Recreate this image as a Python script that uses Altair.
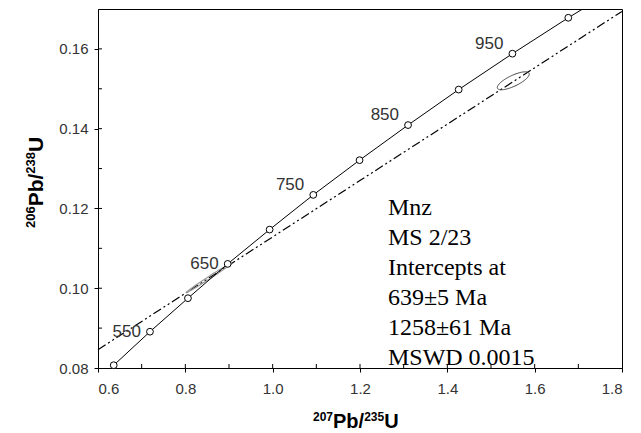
import altair as alt
import pandas as pd
import numpy as np

# Concordia points (age in Ma, 207Pb/235U, 206Pb/238U)
ages = [500, 550, 600, 650, 700, 750, 800, 850, 900, 950, 1000]
conc_x = [0.636, 0.719, 0.806, 0.897, 0.993, 1.093, 1.199, 1.310, 1.426, 1.549, 1.677]
conc_y = [0.0807, 0.0891, 0.0975, 0.1061, 0.1147, 0.1234, 0.1321, 0.1409, 0.1498, 0.1588, 0.1678]
# continuation of the curve beyond the top edge
ext_age = [1050]
ext_x = [1.813]
ext_y = [0.1769]

label_ages_low = [550, 650]
label_ages_high = [750, 850, 950]

# Discordia end points
disc_x = [0.60, 1.80]
disc_y = [0.0846, 0.1694]

# Error ellipse of the analysis (centre, sigma x, sigma y, correlation)
ell_cx, ell_cy = 1.551, 0.1520
ell_sx, ell_sy, ell_rho = 0.0366, 0.00225, 0.75

# Lower-intercept uncertainty band (thin grey ellipse)
li_cx, li_cy = 0.854, 0.1026
li_sx, li_sy, li_rho = 0.052, 0.0037, 0.995

# Inset text
info_lines = ["Mnz", "MS 2/23", "Intercepts at", "639±5 Ma", "1258±61 Ma", "MSWD 0.0015"]

# Axis titles split into (text, is_superscript)
x_title_parts = [("207", True), ("Pb/", False), ("235", True), ("U", False)]
y_title_parts = [("206", True), ("Pb/", False), ("238", True), ("U", False)]

x_ticks = [0.6, 0.8, 1.0, 1.2, 1.4, 1.6, 1.8]
x_minor = [0.7, 0.8, 0.9, 1.0, 1.1, 1.2, 1.3, 1.4, 1.5, 1.6, 1.7]
y_ticks = [0.08, 0.10, 0.12, 0.14, 0.16]
y_minor = [0.09, 0.10, 0.11, 0.12, 0.13, 0.14, 0.15, 0.16]

W, H = 524, 359
xs = alt.Scale(domain=[0.6, 1.8], nice=False, zero=False)
ys = alt.Scale(domain=[0.08, 0.17], nice=False, zero=False)

conc = pd.DataFrame({"age": ages + ext_age, "x": conc_x + ext_x, "y": conc_y + ext_y})
pts = pd.DataFrame({"age": ages, "x": conc_x, "y": conc_y})
lab_low = pts[pts.age.isin(label_ages_low)].assign(lab=lambda d: d.age.astype(str))
lab_high = pts[pts.age.isin(label_ages_high)].assign(lab=lambda d: d.age.astype(str))
disc = pd.DataFrame({"x": disc_x, "y": disc_y})


def ellipse_df(cx, cy, sx, sy, rho):
    t = np.linspace(0, 2 * np.pi, 91)
    phi = np.arccos(rho)
    return pd.DataFrame({"i": np.arange(len(t)),
                         "x": cx + sx * np.cos(t),
                         "y": cy + sy * np.cos(t - phi)})


ell = ellipse_df(ell_cx, ell_cy, ell_sx, ell_sy, ell_rho)
li = ellipse_df(li_cx, li_cy, li_sx, li_sy, li_rho)

X = alt.X("x:Q", scale=xs, title=None,
          axis=alt.Axis(values=x_ticks, format=".1f", tickSize=4, labelPadding=9, grid=False))
Y = alt.Y("y:Q", scale=ys, title=None,
          axis=alt.Axis(values=y_ticks, format=".2f", tickSize=4, labelPadding=6, grid=False))

disc_line = alt.Chart(disc).mark_line(
    color="black", strokeWidth=1.2, strokeDash=[9, 3, 2, 3, 2, 3]
).encode(x=X, y=Y)

li_band = alt.Chart(li).mark_line(color="#999", strokeWidth=1.2).encode(
    x="x:Q", y="y:Q", order="i:Q")

ellipse = alt.Chart(ell).mark_line(color="#444", strokeWidth=1).encode(
    x="x:Q", y="y:Q", order="i:Q")

conc_line = alt.Chart(conc).mark_line(color="black", strokeWidth=1, clip=True).encode(
    x="x:Q", y="y:Q", order="age:Q")

circles = alt.Chart(pts).mark_point(
    shape="circle", size=46, filled=True, fill="white", stroke="black", strokeWidth=1, opacity=1
).encode(x="x:Q", y="y:Q")

t_low = alt.Chart(lab_low).mark_text(
    align="right", baseline="middle", dx=-9, fontSize=17, font="Liberation Sans", color="#333"
).encode(x="x:Q", y="y:Q", text="lab:N")

t_high = alt.Chart(lab_high).mark_text(
    align="right", baseline="middle", dx=-9, dy=-10, fontSize=17, font="Liberation Sans", color="#333"
).encode(x="x:Q", y="y:Q", text="lab:N")

info = alt.Chart(pd.DataFrame({"x": [1.264], "y": [0.1232], "t": ["\n".join(info_lines)]})).mark_text(
    align="left", baseline="top", fontSize=24, font="Liberation Serif", color="black",
    lineBreak="\n", lineHeight=30
).encode(x="x:Q", y="y:Q", text="t:N")

xin = alt.Chart(pd.DataFrame({"x": x_minor})).mark_rule(color="black", strokeWidth=1).encode(
    x="x:Q", y=alt.value(H), y2=alt.value(H - 4))
yin = alt.Chart(pd.DataFrame({"y": y_minor})).mark_rule(color="black", strokeWidth=1).encode(
    y="y:Q", x=alt.value(0), x2=alt.value(4))

# --- composite axis titles with real superscripts (Arial-metric widths) ---
ADV = {"0": 0.556, "2": 0.556, "3": 0.556, "5": 0.556, "6": 0.556, "7": 0.556, "8": 0.556,
       "P": 0.667, "b": 0.611, "/": 0.278, "U": 0.722}


def title_layers(parts, main_fs, sup_fs, start, base_main, base_sup, vertical):
    layers = []
    pos = start
    for txt, sup in parts:
        fs = sup_fs if sup else main_fs
        w = sum(ADV[c] for c in txt) * fs
        base = base_sup if sup else base_main
        if vertical:
            enc = dict(x=alt.value(base), y=alt.value(pos))
        else:
            enc = dict(x=alt.value(pos), y=alt.value(base))
        layers.append(
            alt.Chart(pd.DataFrame({"t": [txt]})).mark_text(
                align="left", baseline="alphabetic", fontSize=fs, fontWeight="bold",
                font="Liberation Sans", color="black", angle=270 if vertical else 0
            ).encode(text="t:N", **enc)
        )
        pos = pos - w if vertical else pos + w
    return layers


xt = title_layers(x_title_parts, 20, 12, 215, H + 60, H + 53, vertical=False)
yt = title_layers(y_title_parts, 21, 13, 219, -55, -63, vertical=True)

chart = alt.layer(disc_line, li_band, ellipse, conc_line, circles, t_low, t_high, info, xin, yin,
                  *xt, *yt).properties(
    width=W, height=H,
    autosize=alt.AutoSizeParams(type="none"),
    padding={"left": 90, "top": 1, "right": 11, "bottom": 63},
).configure_view(stroke="black", strokeWidth=1).configure_axis(
    domainColor="black", tickColor="black", labelColor="#333", labelFontSize=15,
    labelFont="Liberation Sans"
)

chart.save("out.html", embed_options={"renderer": "svg", "actions": False})
